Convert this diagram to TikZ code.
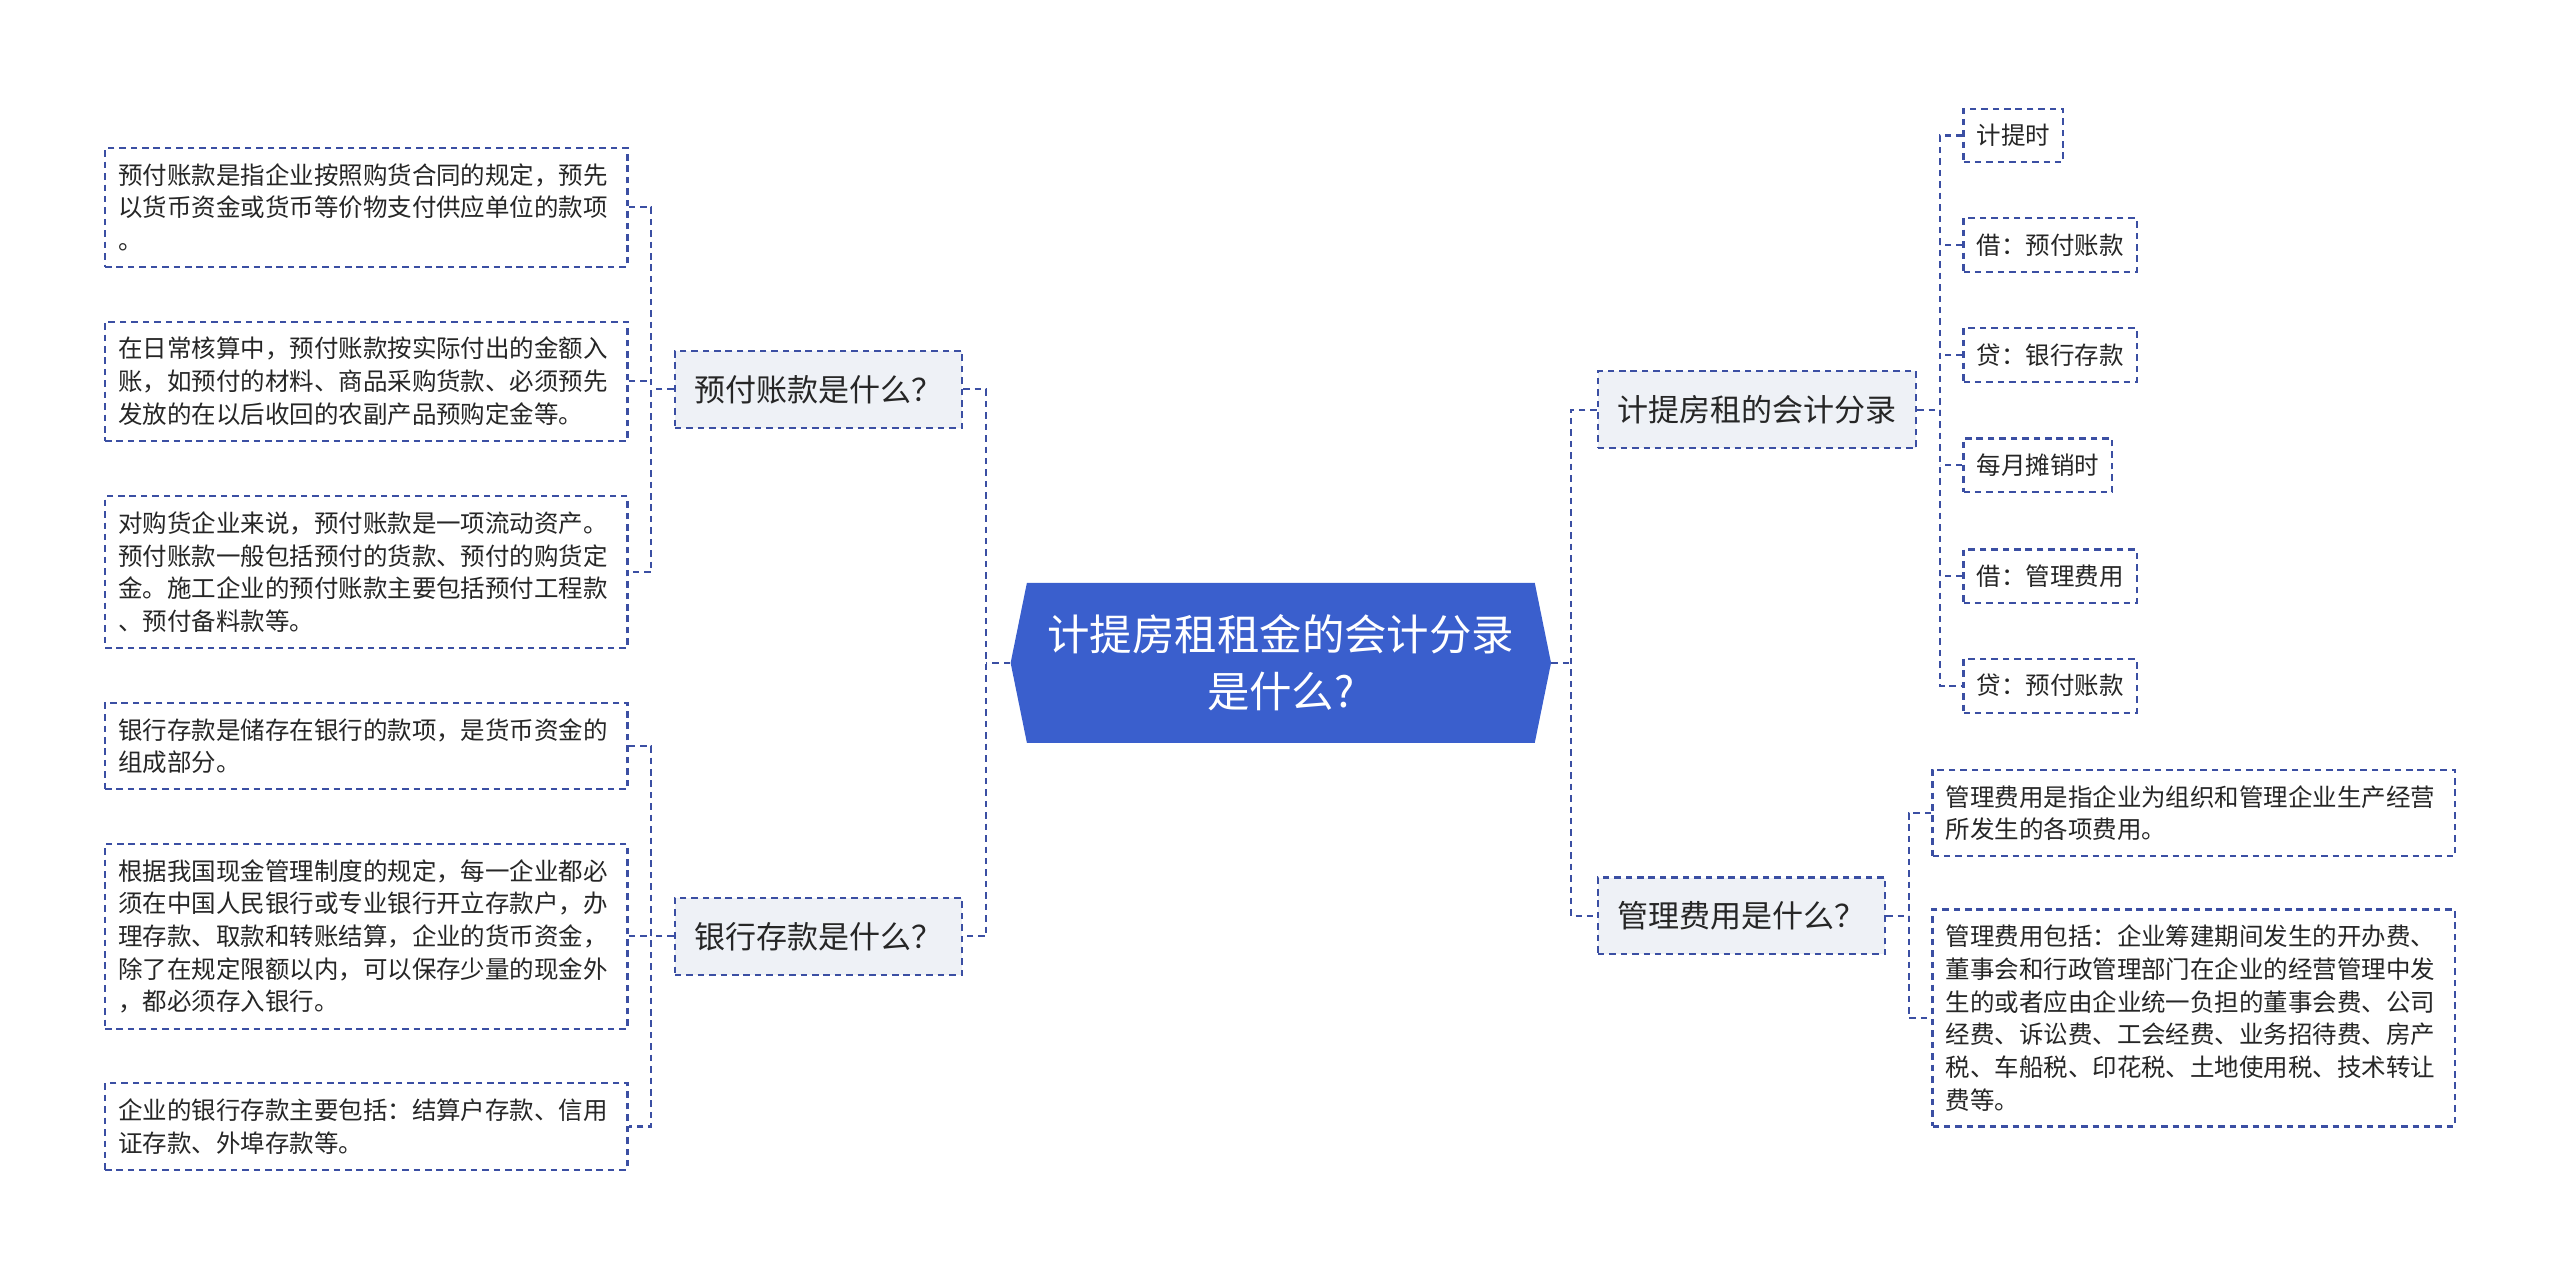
\documentclass[tikz,border=0pt]{standalone}
\usepackage{fontspec}
\setmainfont{Noto Sans CJK SC}
\usepackage{tikz}
\usetikzlibrary{positioning,shapes.symbols}
\definecolor{linec}{HTML}{3B4FA3}
\definecolor{rootc}{HTML}{3A5FCD}
\definecolor{topicc}{HTML}{EEF1F6}
\definecolor{textc}{HTML}{262626}
\tikzset{
  conn/.style={draw=linec,line width=1.3pt,dash pattern=on 4pt off 3pt},
  leafbox/.style={draw=linec,line width=1.3pt,dash pattern=on 4pt off 3pt,fill=white,text=textc,
    inner xsep=8pt,inner ysep=9.5pt,font=\fontsize{15}{20}\selectfont,align=left},
  notebox/.style={leafbox,text width=304pt},
  topicbox/.style={draw=linec,line width=1.3pt,dash pattern=on 4pt off 3pt,fill=topicc,text=textc,
    inner xsep=12pt,minimum height=47pt,font=\fontsize{19}{23}\selectfont},
  rootbox/.style={signal,signal to=west and east,signal pointer angle=157,fill=rootc,text=white,
    minimum width=331pt,minimum height=98pt,font=\fontsize{26}{35}\selectfont,align=center}
}

\begin{document}
\begin{tikzpicture}[x=1pt,y=-1pt]
    \useasboundingbox (0,0) rectangle (1568,783);

    \node [rootbox] (root) at (784.5,406) {计提房租租金的会计分录\\是什么?};

    % left side
    \node [topicbox,anchor=east] (yf) at (590,238.5) {预付账款是什么？};
    \node [topicbox,anchor=east] (yh) at (590,573.5) {银行存款是什么？};

    \node [notebox,anchor=east] (L1) at (385,127) {预付账款是指企业按照购货合同的规定，预先\\以货币资金或货币等价物支付供应单位的款项\\。};
    \node [notebox,anchor=east] (L2) at (385,233.5) {在日常核算中，预付账款按实际付出的金额入\\账，如预付的材料、商品采购货款、必须预先\\发放的在以后收回的农副产品预购定金等。};
    \node [notebox,anchor=east] (L3) at (385,350.5) {对购货企业来说，预付账款是一项流动资产。\\预付账款一般包括预付的货款、预付的购货定\\金。施工企业的预付账款主要包括预付工程款\\、预付备料款等。};
    \node [notebox,anchor=east] (L4) at (385,457) {银行存款是储存在银行的款项，是货币资金的\\组成部分。};
    \node [notebox,anchor=east] (L5) at (385,573.5) {根据我国现金管理制度的规定，每一企业都必\\须在中国人民银行或专业银行开立存款户，办\\理存款、取款和转账结算，企业的货币资金，\\除了在规定限额以内，可以保存少量的现金外\\，都必须存入银行。};
    \node [notebox,anchor=east] (L6) at (385,690) {企业的银行存款主要包括：结算户存款、信用\\证存款、外埠存款等。};

    % right side
    \node [topicbox,anchor=west] (jt) at (978,251) {计提房租的会计分录};
    \node [topicbox,anchor=west] (gl) at (978,561) {管理费用是什么？};

    \node [leafbox,anchor=west] (R1) at (1202,83) {计提时};
    \node [leafbox,anchor=west] (R2) at (1202,150) {借：预付账款};
    \node [leafbox,anchor=west] (R3) at (1202,217.5) {贷：银行存款};
    \node [leafbox,anchor=west] (R4) at (1202,285) {每月摊销时};
    \node [leafbox,anchor=west] (R5) at (1202,353) {借：管理费用};
    \node [leafbox,anchor=west] (R6) at (1202,420) {贷：预付账款};

    \node [notebox,anchor=west] (M1) at (1183,498) {管理费用是指企业为组织和管理企业生产经营\\所发生的各项费用。};
    \node [notebox,anchor=west] (M2) at (1183,623.5) {管理费用包括：企业筹建期间发生的开办费、\\董事会和行政管理部门在企业的经营管理中发\\生的或者应由企业统一负担的董事会费、公司\\经费、诉讼费、工会经费、业务招待费、房产\\税、车船税、印花税、土地使用税、技术转让\\费等。};

    % joints
    \coordinate (lj) at (604,406);
    \coordinate (rj) at (962,406);
    \coordinate (yfj) at (399,238.5);
    \coordinate (yhj) at (399,573.5);
    \coordinate (jtj) at (1188,251);
    \coordinate (glj) at (1169,561);

    \path [conn] (root.west) -- (lj);
    \path [conn] (yf.east) -| (lj) |- (yh.east);
    \path [conn] (root.east) -- (rj);
    \path [conn] (jt.west) -| (rj) |- (gl.west);

    \path [conn] (yf.west) -- (yfj);
    \path [conn] (L1.east) -| (yfj) |- (L3.east);
    \path [conn] (L2.east) -- (L2.east -| yfj);

    \path [conn] (yh.west) -- (yhj);
    \path [conn] (L4.east) -| (yhj) |- (L6.east);
    \path [conn] (L5.east) -- (L5.east -| yhj);

    \path [conn] (jt.east) -- (jtj);
    \path [conn] (R1.west) -| (jtj) |- (R6.west);
    \foreach \n in {R2,R3,R4,R5}
        \path [conn] (\n.west) -- (\n.west -| jtj);

    \path [conn] (gl.east) -- (glj);
    \path [conn] (M1.west) -| (glj) |- (M2.west);
\end{tikzpicture}
\end{document}
